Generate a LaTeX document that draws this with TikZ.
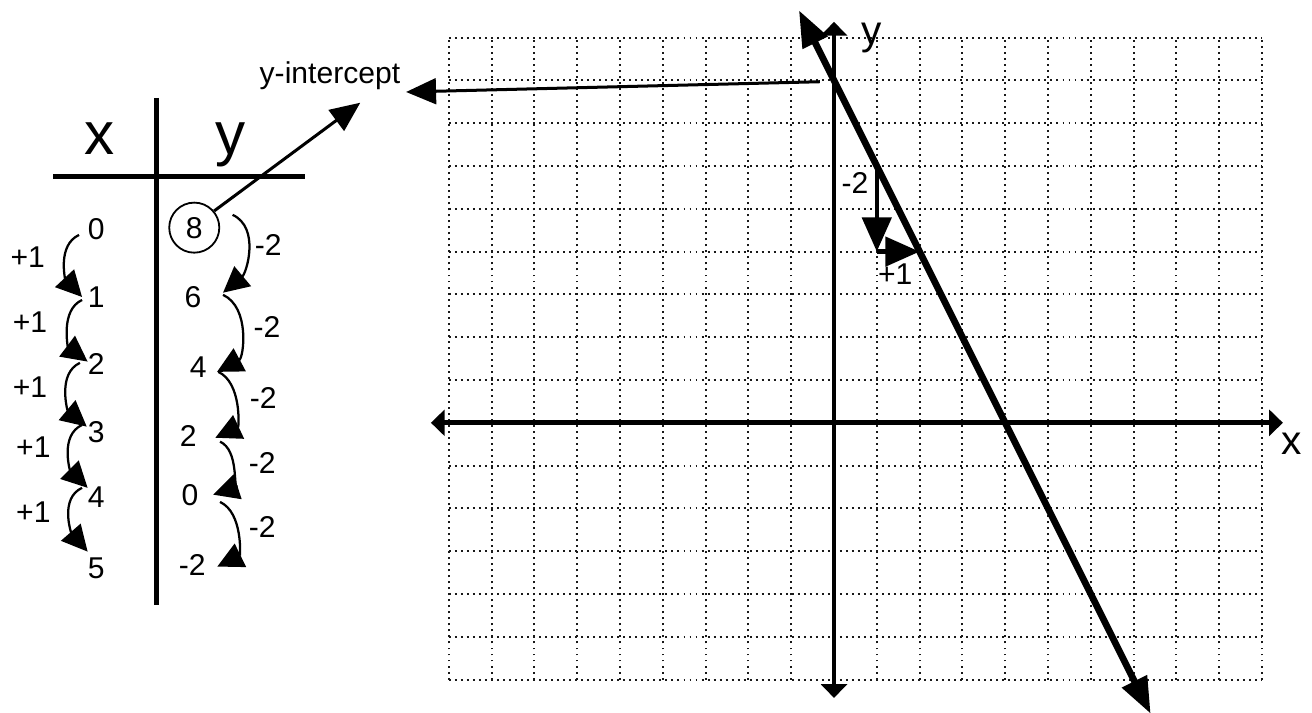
\documentclass[tikz,border=0pt]{standalone}
\usepackage{fontspec}
\setmainfont{Liberation Sans}
\usetikzlibrary{arrows.meta}

\begin{document}
\begin{tikzpicture}[x=1cm,y=1cm,
  num/.style={inner sep=0pt,font=\fontsize{20}{24}\selectfont},
  head/.style={inner sep=0pt,anchor=base,font=\fontsize{40}{48}\selectfont},
  axlabel/.style={inner sep=0pt,anchor=base,font=\fontsize{27}{32}\selectfont},
  gridline/.style={line width=1.3pt,black!90,dash pattern=on 1.3pt off 2.7pt},
  axis/.style={line width=3.3pt,{Triangle[length=0.32cm,width=0.6cm]}-{Triangle[length=0.32cm,width=0.6cm]}},
  graphline/.style={line width=4.5pt,{Triangle[length=0.85cm,width=0.62cm]}-{Triangle[length=0.85cm,width=0.62cm]}},
  slope/.style={line width=3pt,-{Triangle[length=0.8cm,width=0.68cm]}},
  rule/.style={line width=3.3pt},
  hop/.style={line width=1.5pt,-{Triangle[length=0.6cm,width=0.6cm]}},
  pointer/.style={line width=2pt,-{Triangle[length=0.7cm,width=0.6cm]}}]

\useasboundingbox (-19.49,-6.78) rectangle (11.17,9.88);

\draw[gridline] (-9,-6) grid (10,9);

\coordinate (xl) at (-9.42,0);
\coordinate (xr) at (10.49,0);
\coordinate (yb) at (0,-6.43);
\coordinate (yt) at (0,9.37);
\draw[axis] (xl) -- (xr);
\draw[axis] (yb) -- (yt);
\node[axlabel] (xlab) at (10.70,-0.75) {x};
\node[axlabel] (ylab) at (0.89,8.83) {y};

\coordinate (la) at (-0.82,9.64);
\coordinate (lb) at (7.40,-6.80);
\draw[graphline] (la) -- (lb);

\coordinate (s0) at (1,6);
\coordinate (s1) at (1,4);
\coordinate (s2) at (2,4);
\draw[slope] (s0) -- (s1);
\draw[slope] (s1) -- (s2);
\node[num] (rise) at (0.49,5.60) {-2};
\node[num] (run) at (1.43,3.48) {+1};

\coordinate (yint) at (0,8);
\node[num,anchor=base] (ilab) at (-11.78,7.94) {y-intercept};
\coordinate (itipa) at (-11.07,7.48);
\coordinate (itipb) at (-10.00,7.73);
\draw[pointer] ([xshift=-0.33cm,yshift=-0.03cm]yint) -- (itipb);

\draw[rule] (-18.25,5.75) -- (-12.36,5.75);
\draw[rule] (-15.84,7.59) -- (-15.84,-4.25);
\node[head] (hx) at (-17.17,6.26) {x};
\node[head] (hy) at (-14.11,6.26) {y};

\node[num] (x0) at (-17.24,4.53) {0};
\node[num] (x1) at (-17.24,2.94) {1};
\node[num] (x2) at (-17.24,1.38) {2};
\node[num] (x3) at (-17.24,-0.21) {3};
\node[num] (x4) at (-17.24,-1.73) {4};
\node[num] (x5) at (-17.24,-3.41) {5};

\node[num,draw,circle,line width=1.2pt,minimum size=1.17cm] (y0) at (-14.95,4.56) {8};
\node[num] (y1) at (-14.98,2.94) {6};
\node[num] (y2) at (-14.86,1.31) {4};
\node[num] (y3) at (-15.09,-0.30) {2};
\node[num] (y4) at (-15.05,-1.68) {0};
\node[num] (y5) at (-15.00,-3.32) {-2};

\draw[pointer] (y0.40) -- (itipa);

\draw[hop] ([shift={(-0.2,-0.14)}]x0.west) to[out=205,in=133] ([shift={(-0.13,0)}]x1.west);
\draw[hop] ([shift={(-0.13,-0.07)}]x1.west) to[out=205,in=143] ([shift={(0,0.05)}]x2.west);
\draw[hop] ([shift={(-0.18,0.02)}]x2.west) to[out=205,in=140] ([shift={(-0.02,0.12)}]x3.west);
\draw[hop] ([shift={(-0.13,0.16)}]x3.west) to[out=205,in=135] ([shift={(0,0.21)}]x4.west);
\draw[hop] ([shift={(-0.13,0.21)}]x4.west) to[out=205,in=131] ([shift={(0,0.4)}]x5.west);

\node[num] (dx1) at (-18.84,3.88) {+1};
\node[num] (dx2) at (-18.79,2.36) {+1};
\node[num] (dx3) at (-18.79,0.84) {+1};
\node[num] (dx4) at (-18.71,-0.58) {+1};
\node[num] (dx5) at (-18.71,-2.10) {+1};

\draw[hop] ([shift={(0.29,0.3)}]y0.east) to[out=-25,in=40] ([shift={(0.5,0.1)}]y1.east);
\draw[hop] ([shift={(0.5,0.05)}]y1.east) to[out=-25,in=28] ([shift={(0.24,-0.12)}]y2.east);
\draw[hop] ([shift={(0.27,-0.12)}]y2.east) to[out=-25,in=25] ([shift={(0.43,-0.05)}]y3.east);
\draw[hop] ([shift={(0.54,-0.14)}]y3.east) to[out=-25,in=18] ([shift={(0.34,0)}]y4.east);
\draw[hop] ([shift={(0.5,-0.17)}]y4.east) to[out=-25,in=26] ([shift={(0.27,-0.04)}]y5.east);

\node[num] (dy1) at (-13.22,4.16) {-2};
\node[num] (dy2) at (-13.25,2.24) {-2};
\node[num] (dy3) at (-13.34,0.58) {-2};
\node[num] (dy4) at (-13.36,-0.93) {-2};
\node[num] (dy5) at (-13.36,-2.43) {-2};
\end{tikzpicture}
\end{document}
